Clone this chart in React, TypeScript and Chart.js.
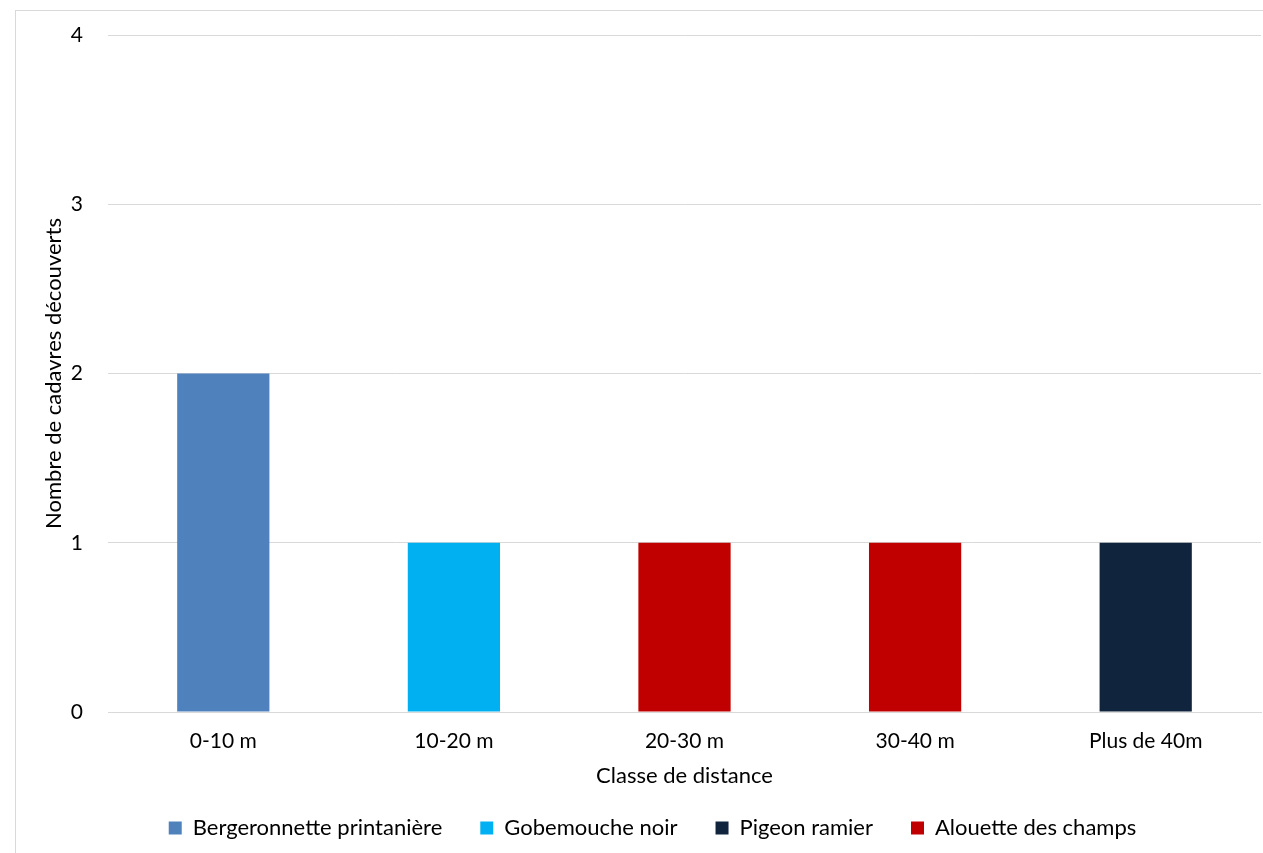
import React, { useEffect, useRef } from "react";
import { Chart, registerables } from "chart.js";

Chart.register(...registerables);

const categories = ["0-10 m", "10-20 m", "20-30 m", "30-40 m", "Plus de 40m"];
const bergeronnette = [2, 0, 0, 0, 0];
const gobemouche = [0, 1, 0, 0, 0];
const pigeon = [0, 0, 0, 0, 1];
const alouette = [0, 0, 1, 1, 0];
const yTicks = [0, 1, 2, 3, 4];

const FONT = "Lato, 'Open Sans', sans-serif";

const legendShift = {
  id: "legendShift",
  afterLayout(chart: any) {
    if (chart.legend) {
      chart.legend.left += 28;
    }
  },
};

export default function App() {
  const ref = useRef<HTMLCanvasElement>(null);
  useEffect(() => {
    document.documentElement.style.overflow = "hidden";
    const ctx = ref.current!;
    const chart = new Chart(ctx, {
      type: "bar",
      data: {
        labels: categories,
        datasets: [
          { label: "Bergeronnette printanière", data: bergeronnette, backgroundColor: "#4F81BD" },
          { label: "Gobemouche noir", data: gobemouche, backgroundColor: "#00B0F0" },
          { label: "Pigeon ramier", data: pigeon, backgroundColor: "#10243E" },
          { label: "Alouette des champs", data: alouette, backgroundColor: "#C00000" },
        ],
      },
      plugins: [legendShift],
      options: {
        responsive: false,
        animation: false,
        layout: { padding: { top: 24, right: 2, bottom: 4, left: 0 } },
        datasets: { bar: { categoryPercentage: 1, barPercentage: 0.4 } },
        plugins: {
          tooltip: { enabled: false },
          legend: {
            position: "bottom",
            labels: {
              boxWidth: 13,
              boxHeight: 13,
              padding: 38,
              color: "#000",
              font: { family: FONT, size: 22 },
            },
          },
        },
        scales: {
          x: {
            stacked: true,
            grid: { display: false, drawTicks: false },
            border: { display: true, color: "#d9d9d9", width: 1 },
            ticks: { color: "#000", padding: 17, font: { family: FONT, size: 21 } },
            title: {
              display: true,
              text: "Classe de distance",
              color: "#000",
              font: { family: FONT, size: 22 },
              padding: { top: 0, bottom: -10 },
            },
            afterFit: (s: any) => {
              s.height = 67;
            },
          },
          y: {
            stacked: true,
            min: 0,
            max: 4,
            afterBuildTicks: (s: any) => {
              s.ticks = yTicks.map((v) => ({ value: v }));
            },
            grid: { color: "#d9d9d9", lineWidth: 1, drawTicks: false },
            border: { display: false },
            ticks: { color: "#000", padding: 25, font: { family: FONT, size: 21 } },
            title: {
              display: true,
              text: "Nombre de cadavres découverts",
              color: "#000",
              font: { family: FONT, size: 22 },
              padding: { top: 25, bottom: 0 },
            },
            afterFit: (s: any) => {
              s.width = 92;
              s.paddingTop = 0;
              s.paddingBottom = 0;
            },
          },
        },
      },
    });
    return () => chart.destroy();
  }, []);
  return (
    <div
      style={{
        position: "absolute",
        left: 15,
        top: 10,
        width: 1247,
        height: 842,
        border: "1px solid #d9d9d9",
        background: "#fff",
      }}
    >
      <canvas ref={ref} width={1247} height={842} style={{ display: "block" }} />
    </div>
  );
}
